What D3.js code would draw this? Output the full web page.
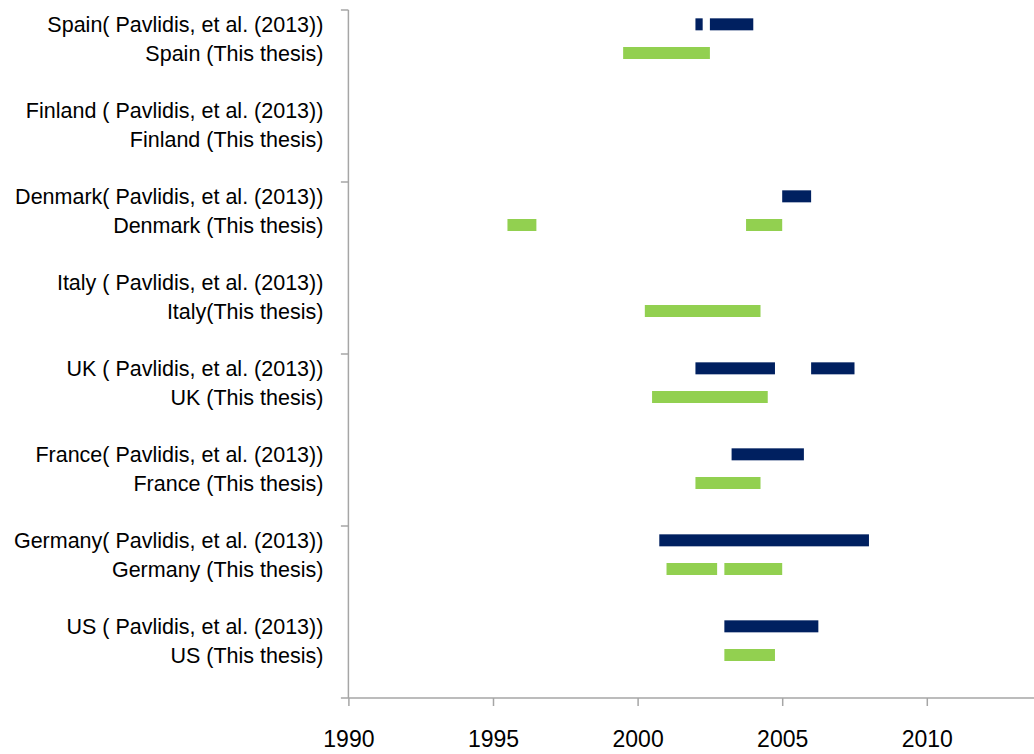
<!DOCTYPE html>
<html>
<head>
<meta charset="utf-8">
<script src="https://cdn.jsdelivr.net/npm/d3@7/dist/d3.min.js"></script>
<style>
  html, body { margin: 0; padding: 0; background: #ffffff; }
  svg { display: block; }
  .cat text { font-family: "Liberation Sans", Arial, sans-serif; font-size: 21.5px; fill: #000; }
  .xaxis text { font-family: "Liberation Sans", Arial, sans-serif; font-size: 23px; fill: #000; }
</style>
</head>
<body>
<svg id="chart" width="1034" height="754"></svg>
<script>
// Countries, top to bottom
const countries = ["Spain", "Finland", "Denmark", "Italy", "UK", "France", "Germany", "US"];

// Row labels for each country: [Pavlidis et al. row, this thesis row]
const pavlidisLabels = [
  "Spain( Pavlidis, et al. (2013))",
  "Finland ( Pavlidis, et al. (2013))",
  "Denmark( Pavlidis, et al. (2013))",
  "Italy ( Pavlidis, et al. (2013))",
  "UK ( Pavlidis, et al. (2013))",
  "France( Pavlidis, et al. (2013))",
  "Germany( Pavlidis, et al. (2013))",
  "US ( Pavlidis, et al. (2013))"
];
const thesisLabels = [
  "Spain (This thesis)",
  "Finland (This thesis)",
  "Denmark (This thesis)",
  "Italy(This thesis)",
  "UK (This thesis)",
  "France (This thesis)",
  "Germany (This thesis)",
  "US (This thesis)"
];

// Episode periods [start, end] in years, per country
const pavlidisPeriods = [
  [[2002.0, 2002.25], [2002.5, 2004.0]],
  [],
  [[2005.0, 2006.0]],
  [],
  [[2002.0, 2004.75], [2006.0, 2007.5]],
  [[2003.25, 2005.75]],
  [[2000.75, 2008.0]],
  [[2003.0, 2006.25]]
];
const thesisPeriods = [
  [[1999.5, 2002.5]],
  [],
  [[1995.5, 1996.5], [2003.75, 2005.0]],
  [[2000.25, 2004.25]],
  [[2000.5, 2004.5]],
  [[2002.0, 2004.25]],
  [[2001.0, 2002.75], [2003.0, 2005.0]],
  [[2003.0, 2004.75]]
];

const yearTicks = [1990, 1995, 2000, 2005, 2010];
const colors = { pavlidis: "#002060", thesis: "#92D050" };

const svg = d3.select("#chart");
const plotLeft = 348.4, plotTop = 10, plotBottom = 698;

// Each country takes three rows: Pavlidis, this thesis, and a spacer
const rows = [];
countries.forEach((c, i) => {
  rows.push({ key: c + "-p", label: pavlidisLabels[i], periods: pavlidisPeriods[i], kind: "pavlidis" });
  rows.push({ key: c + "-t", label: thesisLabels[i], periods: thesisPeriods[i], kind: "thesis" });
  rows.push({ key: c + "-gap", label: "", periods: [], kind: "gap" });
});

const x = d3.scaleLinear().domain([1990, 2015]).range([plotLeft, plotLeft + 25 * 28.92]);
const y = d3.scaleBand().domain(rows.map(r => r.key)).range([plotTop, plotBottom]).padding(0);
const barH = 12;

// Bars
const segs = [];
rows.forEach(r => r.periods.forEach(p => segs.push({ key: r.key, kind: r.kind, s: p[0], e: p[1] })));
svg.append("g").selectAll("rect").data(segs).join("rect")
  .attr("x", d => x(d.s))
  .attr("width", d => x(d.e) - x(d.s))
  .attr("y", d => y(d.key) + y.bandwidth() / 2 - barH / 2)
  .attr("height", barH)
  .attr("fill", d => colors[d.kind]);

// Category labels
svg.append("g").attr("class", "cat").selectAll("text")
  .data(rows.filter(r => r.label))
  .join("text")
  .attr("x", plotLeft - 25)
  .attr("y", d => y(d.key) + y.bandwidth() / 2)
  .attr("dy", "0.35em")
  .attr("text-anchor", "end")
  .text(d => d.label);

const axisColor = "#a6a6a6";

// Vertical axis with a tick every two countries
const yTickPos = d3.range(0, rows.length + 1, 6).map(i => plotTop + i * y.step());
const yAxisG = svg.append("g");
yAxisG.append("line")
  .attr("x1", plotLeft).attr("x2", plotLeft).attr("y1", plotTop).attr("y2", plotBottom)
  .attr("stroke", axisColor).attr("stroke-width", 1.5);
yAxisG.selectAll("line.tick").data(yTickPos).join("line")
  .attr("class", "tick")
  .attr("x1", plotLeft - 7.5).attr("x2", plotLeft).attr("y1", d => d).attr("y2", d => d)
  .attr("stroke", axisColor).attr("stroke-width", 1.5);

// Horizontal year axis
const xAxis = d3.axisBottom(x).tickValues(yearTicks).tickFormat(d3.format("d")).tickSize(8).tickPadding(25);
const xg = svg.append("g").attr("class", "xaxis").attr("transform", `translate(0,${plotBottom})`).call(xAxis);
xg.select(".domain").attr("d", `M${plotLeft},0H1034`).attr("stroke", axisColor).attr("stroke-width", 1.5);
xg.selectAll(".tick line").attr("stroke", axisColor).attr("stroke-width", 1.5);
xg.attr("font-size", null).attr("font-family", null);
</script>
</body>
</html>
